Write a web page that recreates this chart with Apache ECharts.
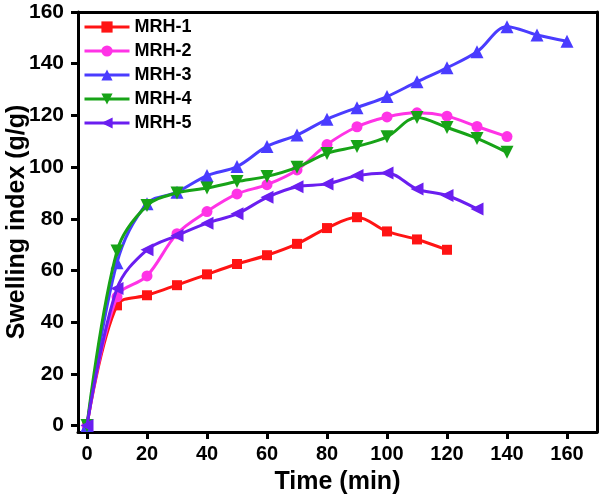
<!DOCTYPE html>
<html>
<head>
<meta charset="utf-8">
<script src="https://cdn.jsdelivr.net/npm/echarts@6/dist/echarts.min.js"></script>
<style>html,body{margin:0;padding:0;background:#fff}#c{width:600px;height:496px}</style>
</head>
<body>
<div id="c"></div>
<script>
const seriesNames = ['MRH-1', 'MRH-2', 'MRH-3', 'MRH-4', 'MRH-5'];
const timeMRH1 = [0,10,20,30,40,50,60,70,80,90,100,110,120];
const valMRH1  = [0,46.5,50.4,54.3,58.5,62.5,65.9,70.3,76.4,80.6,75.1,72.0,68.0];
const timeMRH2 = [0,10,20,30,40,50,60,70,80,90,100,110,120,130,140];
const valMRH2  = [0,49.8,57.9,74.2,82.8,89.6,93.2,98.9,108.7,115.6,119.4,121.0,119.7,115.7,111.8];
const timeMRH3 = [0,10,20,30,40,50,60,70,80,90,100,110,120,130,140,150,160];
const valMRH3  = [0,63,85.8,90.3,96.7,100.2,108.0,112.4,118.5,123.0,127.3,133.0,138.4,144.6,154.3,151.1,148.7];
const timeMRH4 = [0,10,20,30,40,50,60,70,80,90,100,110,120,130,140];
const valMRH4  = [0,67.5,85.1,90.0,91.9,94.4,96.4,99.9,105.3,108.0,111.7,119.2,115.3,111.1,105.7];
const timeMRH5 = [0,10,20,30,40,50,60,70,80,90,100,110,120,130];
const valMRH5  = [0,53.0,68.0,73.5,78.3,81.9,88.3,92.4,93.5,96.7,97.7,91.5,89.0,83.8];
const xTicks = [0,20,40,60,80,100,120,140,160];
const yTicks = [0,20,40,60,80,100,120,140,160];

const colors = ['#ff1414', '#ff33e6', '#4a3cff', '#17a317', '#6a1ef0'];
const symbols = ['rect', 'circle', 'triangle', 'triangle', 'triangle'];
const rotates = [0, 0, 0, 180, 90];
const sizes = [10, 11, 13, 13, 13];
const times = [timeMRH1, timeMRH2, timeMRH3, timeMRH4, timeMRH5];
const vals = [valMRH1, valMRH2, valMRH3, valMRH4, valMRH5];

const font = 'Liberation Sans, Arial, sans-serif';
const series = seriesNames.map((n, i) => ({
  name: n,
  type: 'line',
  smooth: 0.35,
  data: times[i].map((t, k) => [t, vals[i][k]]),
  symbol: symbols[i],
  symbolRotate: rotates[i],
  symbolSize: sizes[i],
  lineStyle: {width: 3, color: colors[i]},
  itemStyle: {color: colors[i]},
  z: 2 + i
}));

const chart = echarts.init(document.getElementById('c'));
chart.setOption({
  animation: false,
  backgroundColor: '#fff',
  grid: {left: 78, right: 3, top: 12, bottom: 64, containLabel: false, outerBoundsMode: 'none'},
  legend: {
    orient: 'vertical', left: 78, top: 13,
    itemWidth: 45, itemHeight: 14, itemGap: 6,
    lineStyle: {width: 3},
    textStyle: {fontFamily: font, fontWeight: 'bold', fontSize: 18, lineHeight: 18, color: '#000'},
    data: seriesNames
  },
  xAxis: [{
    type: 'value', min: -3, max: 170, position: 'bottom',
    name: 'Time (min)', nameLocation: 'middle', nameGap: 38, nameMoveOverlap: false,
    nameTextStyle: {fontFamily: font, fontWeight: 'bold', fontSize: 25, color: '#000'},
    axisLine: {show: true, onZero: false, lineStyle: {color: '#000', width: 3}},
    axisTick: {show: true, inside: false, length: 7, lineStyle: {width: 3, color: '#000'}, customValues: xTicks},
    axisLabel: {fontFamily: font, fontWeight: 'bold', fontSize: 20, color: '#000', margin: 12, customValues: xTicks},
    splitLine: {show: false}
  }, {
    type: 'value', min: -3, max: 170, position: 'top',
    axisLine: {show: true, onZero: false, lineStyle: {color: '#000', width: 3}},
    axisTick: {show: false}, axisLabel: {show: false}, splitLine: {show: false}
  }],
  yAxis: [{
    type: 'value', min: -2.5, max: 160, position: 'left',
    name: 'Swelling index (g/g)', nameLocation: 'middle', nameGap: 48, nameMoveOverlap: false,
    nameTextStyle: {fontFamily: font, fontWeight: 'bold', fontSize: 25, color: '#000'},
    axisLine: {show: true, onZero: false, lineStyle: {color: '#000', width: 3}},
    axisTick: {show: true, inside: false, length: 7, lineStyle: {width: 3, color: '#000'}, customValues: yTicks},
    axisLabel: {fontFamily: font, fontWeight: 'bold', fontSize: 21, color: '#000', margin: 14, customValues: yTicks},
    splitLine: {show: false}
  }, {
    type: 'value', min: -2.5, max: 160, position: 'right',
    axisLine: {show: true, onZero: false, lineStyle: {color: '#000', width: 3}},
    axisTick: {show: false}, axisLabel: {show: false}, splitLine: {show: false}
  }],
  series: series
});
</script>
</body>
</html>
